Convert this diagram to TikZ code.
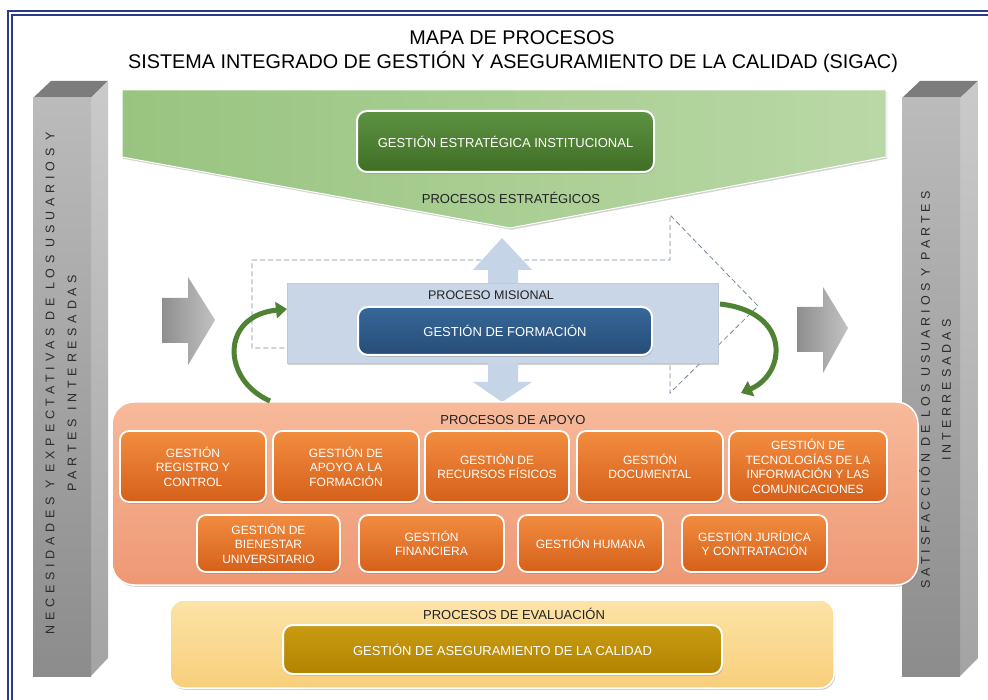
\documentclass[tikz,border=0pt]{standalone}
\usepackage{fontspec}
\setmainfont{Liberation Sans}
\usetikzlibrary{shadows,arrows.meta}
\newcommand\fsz[2]{\fontsize{#1}{#2}\selectfont}
\definecolor{navyframe}{HTML}{2B3A86}
\definecolor{pilFA}{HTML}{BBBBBB}
\definecolor{pilFB}{HTML}{8C8C8C}
\definecolor{pilSA}{HTML}{CACACA}
\definecolor{pilSB}{HTML}{A3A3A3}
\definecolor{pilTop}{HTML}{7C7C7C}
\definecolor{stratL}{HTML}{98C480}
\definecolor{stratR}{HTML}{BAD8A6}
\definecolor{stratBoxT}{HTML}{5E9242}
\definecolor{stratBoxB}{HTML}{3F6E25}
\definecolor{misFill}{HTML}{C9D6E7}
\definecolor{misBoxT}{HTML}{376799}
\definecolor{misBoxB}{HTML}{264D78}
\definecolor{dashc}{HTML}{7388A0}
\definecolor{arcgreen}{HTML}{4F8233}
\definecolor{apoyoT}{HTML}{F7BA9B}
\definecolor{apoyoB}{HTML}{EE9874}
\definecolor{boxT}{HTML}{F28D40}
\definecolor{boxB}{HTML}{D5601A}
\definecolor{evalT}{HTML}{FCE3A6}
\definecolor{evalB}{HTML}{F8CF7B}
\definecolor{goldT}{HTML}{C99B12}
\definecolor{goldB}{HTML}{B38300}
\definecolor{txt}{HTML}{222222}
\definecolor{pilText}{HTML}{2A2A2A}
\definecolor{arrowL}{HTML}{8E8E8E}
\definecolor{arrowR}{HTML}{C2C2C2}
\definecolor{dblArrow}{HTML}{C6D4E7}
\tikzset{
  shad/.style={drop shadow={shadow xshift=1.2pt,shadow yshift=-1.8pt,opacity=.35}},
  procbox/.style={shad,rounded corners=9pt,draw=white,line width=1.8pt,top color=boxT,bottom color=boxB,
    text=white,align=center,font=\fsz{12}{14.5},inner sep=0pt},
  bigbox/.style={shad,rounded corners=10pt,draw=white,line width=2pt,text=white,align=center,inner sep=0pt,font=\fsz{13}{16}},
  label/.style={text=txt,font=\fsz{13}{16},inner sep=0pt},
  pillartext/.style={rotate=90,align=center,text=pilText,inner sep=0pt},
  grayarrow/.style={left color=arrowL,right color=arrowR,draw=none},
  arcarrow/.style={arcgreen,line width=5pt,-{Triangle[length=11pt,width=16pt]}},
}
\begin{document}
\begin{tikzpicture}[x=1pt,y=-1pt]
\useasboundingbox (0,0) rectangle (988,700);
\fill[white] (0,0) rectangle (988,700);
% frame
\draw[navyframe,line width=1.7pt] (8,700) -- (8,11) -- (988,11);
\draw[navyframe,line width=1.7pt] (12,700) -- (12,15) -- (988,15);
% title
\node[text=black,font=\fsz{19.8}{24},inner sep=0pt] (t1) at (512,38) {MAPA DE PROCESOS};
\node[text=black,font=\fsz{19.8}{24},inner sep=0pt] (t2) at (513,62) {SISTEMA INTEGRADO DE GESTIÓN Y ASEGURAMIENTO DE LA CALIDAD (SIGAC)};
% left pillar
\fill[pilTop] (33,98) -- (51,81) -- (108,81) -- (91,98) -- cycle;
\shade[top color=pilSA,bottom color=pilSB] (91,98) -- (108,81) -- (108,658) -- (91,676) -- cycle;
\shade[top color=pilFA,bottom color=pilFB] (33,98) rectangle (91,676);
\node[pillartext,font=\fsz{12.5}{22}\addfontfeatures{LetterSpace=38}] (lp) at (61,383) {NECESIDADES Y EXPECTATIVAS DE LOS USUARIOS Y\\PARTES INTERESADAS};
% right pillar
\fill[pilTop] (902,98) -- (920,81) -- (978,81) -- (960,98) -- cycle;
\shade[top color=pilSA,bottom color=pilSB] (960,98) -- (978,81) -- (978,658) -- (960,676) -- cycle;
\shade[top color=pilFA,bottom color=pilFB] (902,98) rectangle (960,676);
\node[pillartext,font=\fsz{12.5}{21}\addfontfeatures{LetterSpace=32}] (rp) at (935,390) {SATISFACCIÓN DE LOS USUARIOS Y PARTES\\INTERRESADAS};
% strategic
\path[shad,left color=stratL,right color=stratR,draw=white,line width=1pt] (122,90) -- (886,90) -- (886,157) -- (510,228) -- (122,157) -- cycle;
\node[bigbox,top color=stratBoxT,bottom color=stratBoxB,minimum width=297pt,minimum height=61pt] (gei) at (505.5,141.5) {GESTIÓN ESTRATÉGICA INSTITUCIONAL};
\node[label] (pe) at (511,198) {PROCESOS ESTRATÉGICOS};
% dashed big arrow
\draw[dashc,dash pattern=on 5pt off 3pt,line width=0.8pt] (252,260) -- (670,260) -- (670,215) -- (758,306) -- (670,393) -- (670,348) -- (252,348) -- cycle;
% misional
\node[shad,fill=misFill,draw=misFill!85!gray,line width=0.6pt,minimum width=431pt,minimum height=80pt,inner sep=0pt] (mis) at (502.5,323) {};
\node[label,font=\fsz{12.5}{15}] (pm) at (491,295) {PROCESO MISIONAL};
\node[bigbox,top color=misBoxT,bottom color=misBoxB,minimum width=294pt,minimum height=48pt] (gf) at (505,331) {GESTIÓN DE FORMACIÓN};
% double arrow
\fill[dblArrow] (488,283) -- (488,270) -- (473,270) -- (502,238) -- (532,270) -- (518,270) -- (518,283) -- cycle;
\fill[dblArrow] (488,363) -- (488,382) -- (473,382) -- (502,402) -- (532,382) -- (518,382) -- (518,363) -- cycle;
% gray arrows
\path[grayarrow] (162,298) -- (188,298) -- (188,277) -- (215,320) -- (188,365) -- (188,343) -- (162,343) -- cycle;
\path[grayarrow] (797,307) -- (823,307) -- (823,287) -- (848,328) -- (823,373) -- (823,352) -- (797,352) -- cycle;
% apoyo container
\node[shad,rounded corners=22pt,draw=white,line width=1.5pt,top color=apoyoT,bottom color=apoyoB,minimum width=806pt,minimum height=183pt,inner sep=0pt] (apoyo) at (515,493.5) {};
\node[label] (pa) at (513,420) {PROCESOS DE APOYO};
% green curved arrows
\coordinate (la1) at (270,401);
\coordinate (la2) at (287,309);
\coordinate (ra1) at (720,304);
\coordinate (ra2) at (741,393);
\draw[arcarrow] (la1) .. controls (222,380) and (220,316) .. (la2);
\draw[arcarrow] (ra1) .. controls (792,312) and (786,374) .. (ra2);
% support boxes row 1
\node[procbox,minimum width=146pt,minimum height=71pt] (b1) at (193,466.5) {GESTIÓN\\REGISTRO Y\\CONTROL};
\node[procbox,minimum width=146pt,minimum height=71pt] (b2) at (346,466.5) {GESTIÓN DE\\APOYO A LA\\FORMACIÓN};
\node[procbox,minimum width=144pt,minimum height=71pt] (b3) at (497,466.5) {GESTIÓN DE\\RECURSOS FÍSICOS};
\node[procbox,minimum width=146pt,minimum height=71pt] (b4) at (650,466.5) {GESTIÓN\\DOCUMENTAL};
\node[procbox,minimum width=158pt,minimum height=71pt] (b5) at (808,466.5) {GESTIÓN DE\\TECNOLOGÍAS DE LA\\INFORMACIÓN Y LAS\\COMUNICACIONES};
% row 2
\node[procbox,minimum width=143pt,minimum height=57pt] (b6) at (268.5,543.5) {GESTIÓN DE\\BIENESTAR\\UNIVERSITARIO};
\node[procbox,minimum width=145pt,minimum height=57pt] (b7) at (431.5,543.5) {GESTIÓN\\FINANCIERA};
\node[procbox,minimum width=145pt,minimum height=57pt] (b8) at (590.5,543.5) {GESTIÓN HUMANA};
\node[procbox,minimum width=145pt,minimum height=57pt] (b9) at (754.5,543.5) {GESTIÓN JURÍDICA\\Y CONTRATACIÓN};
% evaluation
\node[shad,rounded corners=14pt,draw=white,line width=1.5pt,top color=evalT,bottom color=evalB,minimum width=664pt,minimum height=88pt,inner sep=0pt] (eval) at (502,644) {};
\node[label] (pev) at (514,614) {PROCESOS DE EVALUACIÓN};
\node[bigbox,top color=goldT,bottom color=goldB,minimum width=439pt,minimum height=49pt] (gac) at (502.5,649.5) {GESTIÓN DE ASEGURAMIENTO DE LA CALIDAD};
\end{tikzpicture}
\end{document}
